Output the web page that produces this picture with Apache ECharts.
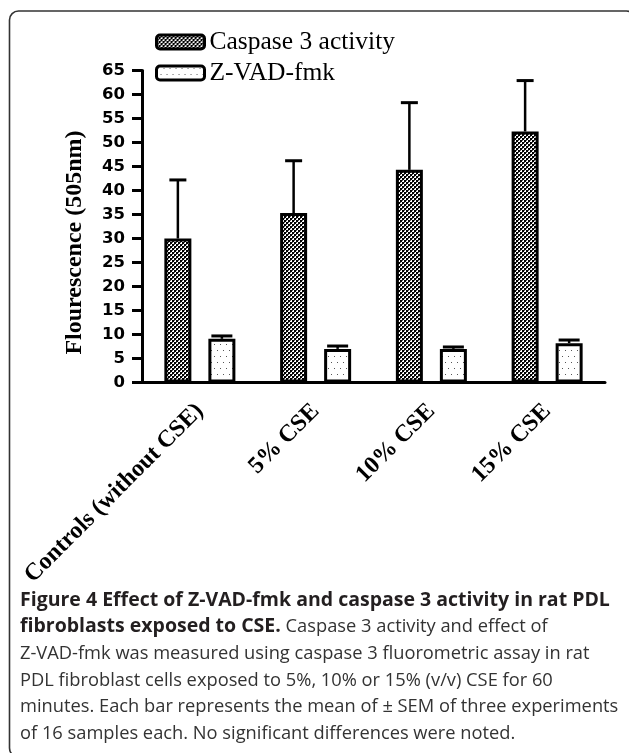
<!DOCTYPE html>
<html>
<head>
<meta charset="utf-8">
<script src="https://cdn.jsdelivr.net/npm/echarts@6/dist/echarts.min.js"></script>
<style>
html,body{margin:0;padding:0;background:#fff;}
#chart{width:629px;height:753px;}
</style>
</head>
<body>
<div id="chart"></div>
<script>
// ---- data ----
const categories = ['Controls (without CSE)', '5% CSE', '10% CSE', '15% CSE'];
const seriesNames = ['Caspase 3 activity', 'Z-VAD-fmk'];
const caspaseMean = [30.0, 35.3, 44.3, 52.3];
const caspaseSem = [12.2, 10.9, 14.0, 10.6];
const zvadMean = [9.1, 7.0, 7.0, 8.2];
const zvadSem = [0.6, 0.6, 0.4, 0.65];
const yMin = 0, yMax = 65, yStep = 5;
const yAxisTitle = 'Flourescence (505nm)';
const captionLines = [
  [['b', 'Figure 4 Effect of Z-VAD-fmk and caspase 3 activity in rat PDL']],
  [['b', 'fibroblasts exposed to CSE.'], ['r', ' Caspase 3 activity and effect of']],
  [['r', 'Z-VAD-fmk was measured using caspase 3 fluorometric assay in rat']],
  [['r', 'PDL fibroblast cells exposed to 5%, 10% or 15% (v/v) CSE for 60']],
  [['r', 'minutes. Each bar represents the mean of \u00b1 SEM of three experiments']],
  [['r', 'of 16 samples each. No significant differences were noted.']]
];

// ---- patterns ----
function makeTile(w, h, draw) {
  const c = document.createElement('canvas');
  c.width = w; c.height = h;
  const ctx = c.getContext('2d');
  ctx.fillStyle = '#fff';
  ctx.fillRect(0, 0, w, h);
  draw(ctx);
  return c;
}
const checkTile = makeTile(4, 4, ctx => {
  ctx.fillStyle = '#000';
  ctx.fillRect(0, 0, 2, 2);
  ctx.fillRect(2, 2, 2, 2);
  ctx.fillStyle = '#555';
  ctx.fillRect(2, 0, 1, 1);
  ctx.fillRect(0, 2, 1, 1);
});
const dotTile = makeTile(6, 12, ctx => {
  ctx.fillStyle = '#555';
  ctx.fillRect(1, 2, 1, 1);
  ctx.fillRect(4, 8, 1, 1);
});

const BAR_W = 27;
const BAR_GAP = 0.63;
const OFFSET = BAR_W * (1 + BAR_GAP) / 2;

function errRenderer(offset, capW) {
  return function (params, api) {
    const i = api.value(0), v = api.value(1), e = api.value(2);
    const base = api.coord([i, v]);
    const top = api.coord([i, v + e]);
    const x = base[0] + offset;
    return {
      type: 'group',
      children: [
        { type: 'line', shape: { x1: x, y1: base[1], x2: x, y2: top[1] }, style: { stroke: '#000', lineWidth: 2.5 } },
        { type: 'line', shape: { x1: x - capW / 2, y1: top[1], x2: x + capW / 2, y2: top[1] }, style: { stroke: '#000', lineWidth: 3 } }
      ]
    };
  };
}

const richText = captionLines.map(line => line.map(([k, t]) => '{' + k + '|' + t + '}').join('')).join('\n');

const chart = echarts.init(document.getElementById('chart'), null, { renderer: 'canvas' });
chart.setOption({
  animation: false,
  backgroundColor: '#fff',
  grid: { left: 142, right: 24, top: 70.5, bottom: 370.5, containLabel: false },
  legend: {
    data: seriesNames,
    orient: 'vertical',
    left: 150,
    top: 24,
    itemWidth: 48,
    itemHeight: 14,
    itemGap: 5,
    icon: 'roundRect',
    itemStyle: { borderColor: '#000', borderWidth: 3 },
    textStyle: { fontFamily: 'Liberation Serif', fontSize: 25.5, color: '#000' }
  },
  xAxis: {
    type: 'category',
    data: categories,
    axisLine: { lineStyle: { color: '#000', width: 3 } },
    axisTick: { alignWithLabel: true, length: 9, lineStyle: { color: '#000', width: 3 } },
    axisLabel: {
      rotate: 45, margin: 25, interval: 0,
      fontFamily: 'Liberation Serif', fontWeight: 'bold', fontSize: 24, color: '#000'
    }
  },
  yAxis: {
    type: 'value',
    min: yMin, max: yMax, interval: yStep,
    splitLine: { show: false },
    axisLine: { show: true, lineStyle: { color: '#000', width: 3 } },
    axisTick: { show: true, length: 10, lineStyle: { color: '#000', width: 3 } },
    axisLabel: { margin: 17, fontFamily: 'DejaVu Sans', fontWeight: 'bold', fontSize: 16.5, color: '#000' },
    name: yAxisTitle,
    nameLocation: 'middle',
    nameGap: 55,
    nameTextStyle: {
      fontFamily: 'Liberation Serif', fontWeight: 'bold', fontSize: 24, color: '#000',
      padding: [0, 32, 0, 0]
    }
  },
  series: [
    {
      name: seriesNames[0], type: 'bar', data: caspaseMean,
      barWidth: BAR_W, barGap: (BAR_GAP * 100) + '%',
      itemStyle: { color: { image: checkTile, repeat: 'repeat' }, borderColor: '#000', borderWidth: 3 },
      z: 2
    },
    {
      name: seriesNames[1], type: 'bar', data: zvadMean,
      barWidth: BAR_W, barGap: (BAR_GAP * 100) + '%',
      itemStyle: { color: { image: dotTile, repeat: 'repeat' }, borderColor: '#000', borderWidth: 3 },
      z: 2
    },
    {
      name: 'caspase-sem', type: 'custom', z: 3,
      renderItem: errRenderer(-OFFSET, 17),
      data: caspaseMean.map((v, i) => [i, v, caspaseSem[i]])
    },
    {
      name: 'zvad-sem', type: 'custom', z: 3,
      renderItem: errRenderer(OFFSET, 21),
      data: zvadMean.map((v, i) => [i, v, zvadSem[i]])
    }
  ],
  graphic: [
    {
      type: 'rect', silent: true, z: -10,
      shape: { x: 9.5, y: 11, width: 626, height: 746, r: 9 },
      style: { fill: 'none', stroke: '#333', lineWidth: 1.6 }
    },
    {
      type: 'text', left: 20, top: 590, silent: true,
      style: {
        text: richText,
        rich: {
          b: { fontFamily: 'Open Sans', fontWeight: 'bold', fontSize: 19.5, lineHeight: 26.8, fill: '#231f20' },
          r: { fontFamily: 'Open Sans', fontWeight: 'normal', fontSize: 18.3, lineHeight: 26.8, fill: '#333' }
        }
      }
    }
  ]
});
</script>
</body>
</html>
